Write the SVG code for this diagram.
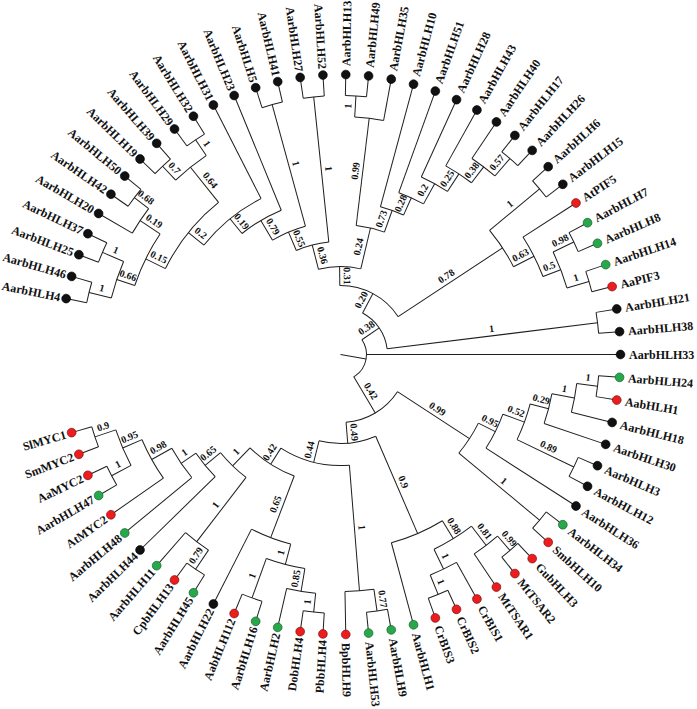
<svg xmlns="http://www.w3.org/2000/svg" width="697" height="709" viewBox="0 0 697 709">
<style>
.c{fill:none;stroke:#1e1e1e;stroke-width:1}
.k{fill:#111;stroke:#000;stroke-width:0.6}
.r{fill:#ee1c1c;stroke:#6a0d0d;stroke-width:0.6}
.g{fill:#27a84a;stroke:#145a26;stroke-width:0.6}
.lf{font-family:"Liberation Serif","Times New Roman",serif;font-weight:bold;font-size:12px;fill:#111}
.fl{text-anchor:end}
.bs{font-family:"Liberation Serif","Times New Roman",serif;font-weight:bold;font-size:10px;fill:#111;text-anchor:middle}
</style>
<rect width="697" height="709" fill="#fff"/>
<g transform="translate(340.5 354.5)">
<g id="connectors" class="c">
<path d="M0 0H26" transform="rotate(10)"/>
<circle r="26" stroke-dasharray="42.52 3000" transform="rotate(-34.49)"/>
<circle r="47" stroke-dasharray="45.07 3000" transform="rotate(-61.96)"/>
<circle r="69" stroke-dasharray="68.92 3000" transform="rotate(-90.575)"/>
<circle r="88" stroke-dasharray="42.71 3000" transform="rotate(-104.48)"/>
<circle r="130" stroke-dasharray="29.04 3000" transform="rotate(-83.07)"/>
<circle r="238" stroke-dasharray="29.16 3000" transform="rotate(-86.58)"/>
<circle r="259" stroke-dasharray="21.16 3000" transform="rotate(-88.92)"/>
<circle r="153" stroke-dasharray="24.59 3000" transform="rotate(-74.88)"/>
<circle r="172" stroke-dasharray="27.23 3000" transform="rotate(-70.2)"/>
<circle r="195" stroke-dasharray="29.86 3000" transform="rotate(-65.52)"/>
<circle r="216" stroke-dasharray="30.88 3000" transform="rotate(-60.84)"/>
<circle r="236" stroke-dasharray="28.92 3000" transform="rotate(-56.16)"/>
<circle r="259" stroke-dasharray="21.16 3000" transform="rotate(-51.48)"/>
<circle r="113" stroke-dasharray="33.67 3000" transform="rotate(-113.01)"/>
<circle r="259" stroke-dasharray="21.16 3000" transform="rotate(-98.28)"/>
<circle r="133" stroke-dasharray="35.82 3000" transform="rotate(-120.73)"/>
<circle r="259" stroke-dasharray="21.16 3000" transform="rotate(-107.64)"/>
<circle r="156" stroke-dasharray="45.8 3000" transform="rotate(-129.14)"/>
<circle r="175" stroke-dasharray="74.16 3000" transform="rotate(-141.28)"/>
<circle r="195" stroke-dasharray="85.61 3000" transform="rotate(-153.855)"/>
<circle r="240" stroke-dasharray="39.21 3000" transform="rotate(-133.38)"/>
<circle r="259" stroke-dasharray="21.16 3000" transform="rotate(-126.36)"/>
<circle r="259" stroke-dasharray="21.16 3000" transform="rotate(-135.72)"/>
<circle r="217" stroke-dasharray="57.61 3000" transform="rotate(-161.46)"/>
<circle r="241" stroke-dasharray="29.53 3000" transform="rotate(-149.76)"/>
<circle r="259" stroke-dasharray="21.16 3000" transform="rotate(-145.08)"/>
<circle r="236" stroke-dasharray="38.55 3000" transform="rotate(-166.14)"/>
<circle r="259" stroke-dasharray="21.16 3000" transform="rotate(-159.12)"/>
<circle r="259" stroke-dasharray="21.16 3000" transform="rotate(-168.48)"/>
<circle r="194" stroke-dasharray="43.58 3000" transform="rotate(-39.78)"/>
<circle r="259" stroke-dasharray="21.16 3000" transform="rotate(-42.12)"/>
<circle r="217" stroke-dasharray="44.31 3000" transform="rotate(-32.76)"/>
<circle r="236" stroke-dasharray="38.55 3000" transform="rotate(-25.74)"/>
<circle r="259" stroke-dasharray="21.16 3000" transform="rotate(-28.08)"/>
<circle r="259" stroke-dasharray="21.16 3000" transform="rotate(-18.72)"/>
<circle r="259" stroke-dasharray="21.16 3000" transform="rotate(-9.36)"/>
<circle r="68" stroke-dasharray="61.95 3000" transform="rotate(33.125)"/>
<circle r="154" stroke-dasharray="35.77 3000" transform="rotate(26.47)"/>
<circle r="173" stroke-dasharray="37.98 3000" transform="rotate(20.18)"/>
<circle r="196" stroke-dasharray="38.02 3000" transform="rotate(14.625)"/>
<circle r="215" stroke-dasharray="30.73 3000" transform="rotate(10.53)"/>
<circle r="238" stroke-dasharray="29.16 3000" transform="rotate(7.02)"/>
<circle r="259" stroke-dasharray="21.16 3000" transform="rotate(4.68)"/>
<circle r="259" stroke-dasharray="21.16 3000" transform="rotate(23.4)"/>
<circle r="259" stroke-dasharray="21.16 3000" transform="rotate(37.44)"/>
<circle r="89" stroke-dasharray="57.88 3000" transform="rotate(66.69)"/>
<circle r="195" stroke-dasharray="55.75 3000" transform="rotate(58.5)"/>
<circle r="216" stroke-dasharray="44.11 3000" transform="rotate(52.65)"/>
<circle r="240" stroke-dasharray="29.41 3000" transform="rotate(49.14)"/>
<circle r="259" stroke-dasharray="21.16 3000" transform="rotate(46.8)"/>
<circle r="238" stroke-dasharray="29.16 3000" transform="rotate(60.84)"/>
<circle r="259" stroke-dasharray="21.16 3000" transform="rotate(65.52)"/>
<circle r="111" stroke-dasharray="71.83 3000" transform="rotate(85.41)"/>
<circle r="237" stroke-dasharray="29.04 3000" transform="rotate(81.9)"/>
<circle r="259" stroke-dasharray="21.16 3000" transform="rotate(79.56)"/>
<circle r="130" stroke-dasharray="52.75 3000" transform="rotate(110.86)"/>
<circle r="196" stroke-dasharray="42.02 3000" transform="rotate(104.715)"/>
<circle r="217" stroke-dasharray="39.88 3000" transform="rotate(99.45)"/>
<circle r="240" stroke-dasharray="29.41 3000" transform="rotate(95.94)"/>
<circle r="259" stroke-dasharray="21.16 3000" transform="rotate(93.6)"/>
<circle r="259" stroke-dasharray="21.16 3000" transform="rotate(107.64)"/>
<circle r="155" stroke-dasharray="35.6 3000" transform="rotate(127.53)"/>
<circle r="236" stroke-dasharray="28.92 3000" transform="rotate(124.02)"/>
<circle r="259" stroke-dasharray="21.16 3000" transform="rotate(121.68)"/>
<circle r="175" stroke-dasharray="30.37 3000" transform="rotate(135.72)"/>
<circle r="193" stroke-dasharray="35.47 3000" transform="rotate(140.4)"/>
<circle r="216" stroke-dasharray="44.11 3000" transform="rotate(145.08)"/>
<circle r="237" stroke-dasharray="38.72 3000" transform="rotate(152.1)"/>
<circle r="259" stroke-dasharray="21.16 3000" transform="rotate(149.76)"/>
<circle r="259" stroke-dasharray="21.16 3000" transform="rotate(159.12)"/>
<path d="M26 0H47" transform="rotate(-34.49)"/>
<path d="M47 0H69" transform="rotate(-61.96)"/>
<path d="M69 0H88" transform="rotate(-90.575)"/>
<path d="M88 0H130" transform="rotate(-76.67)"/>
<path d="M130 0H238" transform="rotate(-83.07)"/>
<path d="M238 0H259" transform="rotate(-86.58)"/>
<path d="M130 0H153" transform="rotate(-70.27)"/>
<path d="M153 0H172" transform="rotate(-65.67)"/>
<path d="M172 0H195" transform="rotate(-61.13)"/>
<path d="M195 0H216" transform="rotate(-56.745)"/>
<path d="M216 0H236" transform="rotate(-52.65)"/>
<path d="M236 0H259" transform="rotate(-49.14)"/>
<path d="M88 0H113" transform="rotate(-104.48)"/>
<path d="M113 0H259" transform="rotate(-95.94)"/>
<path d="M113 0H133" transform="rotate(-113.01)"/>
<path d="M133 0H259" transform="rotate(-105.3)"/>
<path d="M133 0H156" transform="rotate(-120.73)"/>
<path d="M156 0H175" transform="rotate(-129.14)"/>
<path d="M175 0H195" transform="rotate(-141.28)"/>
<path d="M195 0H240" transform="rotate(-128.7)"/>
<path d="M240 0H259" transform="rotate(-124.02)"/>
<path d="M240 0H259" transform="rotate(-133.38)"/>
<path d="M195 0H217" transform="rotate(-153.855)"/>
<path d="M217 0H241" transform="rotate(-146.25)"/>
<path d="M241 0H259" transform="rotate(-142.74)"/>
<path d="M217 0H236" transform="rotate(-161.46)"/>
<path d="M236 0H259" transform="rotate(-156.78)"/>
<path d="M236 0H259" transform="rotate(-166.14)"/>
<path d="M69 0H194" transform="rotate(-33.345)"/>
<path d="M194 0H259" transform="rotate(-39.78)"/>
<path d="M194 0H217" transform="rotate(-26.91)"/>
<path d="M217 0H236" transform="rotate(-21.06)"/>
<path d="M236 0H259" transform="rotate(-25.74)"/>
<path d="M236 0H259" transform="rotate(-16.38)"/>
<path d="M47 0H259" transform="rotate(-7.02)"/>
<path d="M26 0H68" transform="rotate(59.22)"/>
<path d="M68 0H154" transform="rotate(33.125)"/>
<path d="M154 0H173" transform="rotate(26.47)"/>
<path d="M173 0H196" transform="rotate(20.18)"/>
<path d="M196 0H215" transform="rotate(14.625)"/>
<path d="M215 0H238" transform="rotate(10.53)"/>
<path d="M238 0H259" transform="rotate(7.02)"/>
<path d="M196 0H259" transform="rotate(25.74)"/>
<path d="M154 0H259" transform="rotate(39.78)"/>
<path d="M68 0H89" transform="rotate(85.32)"/>
<path d="M89 0H195" transform="rotate(66.69)"/>
<path d="M195 0H216" transform="rotate(58.5)"/>
<path d="M216 0H240" transform="rotate(52.65)"/>
<path d="M240 0H259" transform="rotate(49.14)"/>
<path d="M216 0H238" transform="rotate(64.35)"/>
<path d="M238 0H259" transform="rotate(67.86)"/>
<path d="M89 0H111" transform="rotate(103.95)"/>
<path d="M111 0H237" transform="rotate(85.41)"/>
<path d="M237 0H259" transform="rotate(81.9)"/>
<path d="M111 0H130" transform="rotate(122.485)"/>
<path d="M130 0H196" transform="rotate(110.86)"/>
<path d="M196 0H217" transform="rotate(104.715)"/>
<path d="M217 0H240" transform="rotate(99.45)"/>
<path d="M240 0H259" transform="rotate(95.94)"/>
<path d="M217 0H259" transform="rotate(109.98)"/>
<path d="M130 0H155" transform="rotate(134.11)"/>
<path d="M155 0H236" transform="rotate(127.53)"/>
<path d="M236 0H259" transform="rotate(124.02)"/>
<path d="M155 0H175" transform="rotate(140.69)"/>
<path d="M175 0H193" transform="rotate(145.665)"/>
<path d="M193 0H216" transform="rotate(150.93)"/>
<path d="M216 0H237" transform="rotate(156.78)"/>
<path d="M237 0H259" transform="rotate(152.1)"/>
<path d="M237 0H259" transform="rotate(161.46)"/>
<path d="M259 0H280" transform="rotate(-168.48)"/>
<path d="M259 0H280" transform="rotate(-163.8)"/>
<path d="M259 0H280" transform="rotate(-159.12)"/>
<path d="M259 0H280" transform="rotate(-154.44)"/>
<path d="M241 0H280" transform="rotate(-149.76)"/>
<path d="M259 0H280" transform="rotate(-145.08)"/>
<path d="M259 0H280" transform="rotate(-140.4)"/>
<path d="M259 0H280" transform="rotate(-135.72)"/>
<path d="M259 0H280" transform="rotate(-131.04)"/>
<path d="M259 0H280" transform="rotate(-126.36)"/>
<path d="M259 0H280" transform="rotate(-121.68)"/>
<path d="M175 0H280" transform="rotate(-117)"/>
<path d="M156 0H280" transform="rotate(-112.32)"/>
<path d="M259 0H280" transform="rotate(-107.64)"/>
<path d="M259 0H280" transform="rotate(-102.96)"/>
<path d="M259 0H280" transform="rotate(-98.28)"/>
<path d="M259 0H280" transform="rotate(-93.6)"/>
<path d="M259 0H280" transform="rotate(-88.92)"/>
<path d="M259 0H280" transform="rotate(-84.24)"/>
<path d="M238 0H280" transform="rotate(-79.56)"/>
<path d="M153 0H280" transform="rotate(-74.88)"/>
<path d="M172 0H280" transform="rotate(-70.2)"/>
<path d="M195 0H280" transform="rotate(-65.52)"/>
<path d="M216 0H280" transform="rotate(-60.84)"/>
<path d="M236 0H280" transform="rotate(-56.16)"/>
<path d="M259 0H280" transform="rotate(-51.48)"/>
<path d="M259 0H280" transform="rotate(-46.8)"/>
<path d="M259 0H280" transform="rotate(-42.12)"/>
<path d="M259 0H280" transform="rotate(-37.44)"/>
<path d="M217 0H280" transform="rotate(-32.76)"/>
<path d="M259 0H280" transform="rotate(-28.08)"/>
<path d="M259 0H280" transform="rotate(-23.4)"/>
<path d="M259 0H280" transform="rotate(-18.72)"/>
<path d="M259 0H280" transform="rotate(-14.04)"/>
<path d="M259 0H280" transform="rotate(-9.36)"/>
<path d="M259 0H280" transform="rotate(-4.68)"/>
<path d="M26 0H280"/>
<path d="M259 0H280" transform="rotate(4.68)"/>
<path d="M259 0H280" transform="rotate(9.36)"/>
<path d="M238 0H280" transform="rotate(14.04)"/>
<path d="M215 0H280" transform="rotate(18.72)"/>
<path d="M259 0H280" transform="rotate(23.4)"/>
<path d="M259 0H280" transform="rotate(28.08)"/>
<path d="M173 0H280" transform="rotate(32.76)"/>
<path d="M259 0H280" transform="rotate(37.44)"/>
<path d="M259 0H280" transform="rotate(42.12)"/>
<path d="M259 0H280" transform="rotate(46.8)"/>
<path d="M259 0H280" transform="rotate(51.48)"/>
<path d="M240 0H280" transform="rotate(56.16)"/>
<path d="M238 0H280" transform="rotate(60.84)"/>
<path d="M259 0H280" transform="rotate(65.52)"/>
<path d="M259 0H280" transform="rotate(70.2)"/>
<path d="M195 0H280" transform="rotate(74.88)"/>
<path d="M259 0H280" transform="rotate(79.56)"/>
<path d="M259 0H280" transform="rotate(84.24)"/>
<path d="M237 0H280" transform="rotate(88.92)"/>
<path d="M259 0H280" transform="rotate(93.6)"/>
<path d="M259 0H280" transform="rotate(98.28)"/>
<path d="M240 0H280" transform="rotate(102.96)"/>
<path d="M259 0H280" transform="rotate(107.64)"/>
<path d="M259 0H280" transform="rotate(112.32)"/>
<path d="M196 0H280" transform="rotate(117)"/>
<path d="M259 0H280" transform="rotate(121.68)"/>
<path d="M259 0H280" transform="rotate(126.36)"/>
<path d="M236 0H280" transform="rotate(131.04)"/>
<path d="M175 0H280" transform="rotate(135.72)"/>
<path d="M193 0H280" transform="rotate(140.4)"/>
<path d="M216 0H280" transform="rotate(145.08)"/>
<path d="M259 0H280" transform="rotate(149.76)"/>
<path d="M259 0H280" transform="rotate(154.44)"/>
<path d="M259 0H280" transform="rotate(159.12)"/>
<path d="M259 0H280" transform="rotate(163.8)"/>
</g>
<g id="support">
<text class="bs" x="36.5" y="-4" transform="rotate(-34.49)">0.38</text>
<text class="bs" x="58" y="-4" transform="rotate(-61.96)">0.20</text>
<text class="bs" x="78.5" y="-4" transform="rotate(-90.575) rotate(180 78.5 0)">0.31</text>
<text class="bs" x="109" y="-4" transform="rotate(-76.67)">0.24</text>
<text class="bs" x="184" y="-4" transform="rotate(-83.07)">0.99</text>
<text class="bs" x="248.5" y="-4" transform="rotate(-86.58)">1</text>
<text class="bs" x="141.5" y="-4" transform="rotate(-70.27)">0.73</text>
<text class="bs" x="162.5" y="-4" transform="rotate(-65.67)">0.28</text>
<text class="bs" x="183.5" y="-4" transform="rotate(-61.13)">0.2</text>
<text class="bs" x="205.5" y="-4" transform="rotate(-56.745)">0.25</text>
<text class="bs" x="226" y="-4" transform="rotate(-52.65)">0.38</text>
<text class="bs" x="247.5" y="-4" transform="rotate(-49.14)">0.57</text>
<text class="bs" x="100.5" y="-4" transform="rotate(-104.48) rotate(180 100.5 0)">0.36</text>
<text class="bs" x="186" y="-4" transform="rotate(-95.94) rotate(180 186 0)">1</text>
<text class="bs" x="123" y="-4" transform="rotate(-113.01) rotate(180 123 0)">0.55</text>
<text class="bs" x="196" y="-4" transform="rotate(-105.3) rotate(180 196 0)">1</text>
<text class="bs" x="144.5" y="-4" transform="rotate(-120.73) rotate(180 144.5 0)">0.79</text>
<text class="bs" x="165.5" y="-4" transform="rotate(-129.14) rotate(180 165.5 0)">0.19</text>
<text class="bs" x="185" y="-4" transform="rotate(-141.28) rotate(180 185 0)">0.2</text>
<text class="bs" x="217.5" y="-4" transform="rotate(-128.7) rotate(180 217.5 0)">0.64</text>
<text class="bs" x="249.5" y="-4" transform="rotate(-124.02) rotate(180 249.5 0)">1</text>
<text class="bs" x="249.5" y="-4" transform="rotate(-133.38) rotate(180 249.5 0)">0.7</text>
<text class="bs" x="206" y="-4" transform="rotate(-153.855) rotate(180 206 0)">0.15</text>
<text class="bs" x="229" y="-4" transform="rotate(-146.25) rotate(180 229 0)">0.19</text>
<text class="bs" x="250" y="-4" transform="rotate(-142.74) rotate(180 250 0)">0.68</text>
<text class="bs" x="226.5" y="-4" transform="rotate(-161.46) rotate(180 226.5 0)">0.66</text>
<text class="bs" x="247.5" y="-4" transform="rotate(-156.78) rotate(180 247.5 0)">1</text>
<text class="bs" x="247.5" y="-4" transform="rotate(-166.14) rotate(180 247.5 0)">1</text>
<text class="bs" x="131.5" y="-4" transform="rotate(-33.345)">0.78</text>
<text class="bs" x="226.5" y="-4" transform="rotate(-39.78)">1</text>
<text class="bs" x="205.5" y="-4" transform="rotate(-26.91)">0.63</text>
<text class="bs" x="226.5" y="-4" transform="rotate(-21.06)">0.5</text>
<text class="bs" x="247.5" y="-4" transform="rotate(-25.74)">0.98</text>
<text class="bs" x="247.5" y="-4" transform="rotate(-16.38)">1</text>
<text class="bs" x="153" y="-4" transform="rotate(-7.02)">1</text>
<text class="bs" x="47" y="-4" transform="rotate(59.22)">0.42</text>
<text class="bs" x="111" y="-4" transform="rotate(33.125)">0.99</text>
<text class="bs" x="163.5" y="-4" transform="rotate(26.47)">0.95</text>
<text class="bs" x="184.5" y="-4" transform="rotate(20.18)">0.52</text>
<text class="bs" x="205.5" y="-4" transform="rotate(14.625)">0.29</text>
<text class="bs" x="226.5" y="-4" transform="rotate(10.53)">1</text>
<text class="bs" x="248.5" y="-4" transform="rotate(7.02)">1</text>
<text class="bs" x="227.5" y="-4" transform="rotate(25.74)">0.89</text>
<text class="bs" x="206.5" y="-4" transform="rotate(39.78)">1</text>
<text class="bs" x="78.5" y="-4" transform="rotate(85.32)">0.49</text>
<text class="bs" x="142" y="-4" transform="rotate(66.69)">0.9</text>
<text class="bs" x="205.5" y="-4" transform="rotate(58.5)">0.88</text>
<text class="bs" x="228" y="-4" transform="rotate(52.65)">0.81</text>
<text class="bs" x="249.5" y="-4" transform="rotate(49.14)">0.99</text>
<text class="bs" x="227" y="-4" transform="rotate(64.35)">1</text>
<text class="bs" x="248.5" y="-4" transform="rotate(67.86)">1</text>
<text class="bs" x="100" y="-4" transform="rotate(103.95) rotate(180 100 0)">0.44</text>
<text class="bs" x="174" y="-4" transform="rotate(85.41)">1</text>
<text class="bs" x="248" y="-4" transform="rotate(81.9)">0.77</text>
<text class="bs" x="120.5" y="-4" transform="rotate(122.485) rotate(180 120.5 0)">0.42</text>
<text class="bs" x="163" y="-4" transform="rotate(110.86) rotate(180 163 0)">0.65</text>
<text class="bs" x="206.5" y="-4" transform="rotate(104.715) rotate(180 206.5 0)">1</text>
<text class="bs" x="228.5" y="-4" transform="rotate(99.45) rotate(180 228.5 0)">0.85</text>
<text class="bs" x="249.5" y="-4" transform="rotate(95.94) rotate(180 249.5 0)">1</text>
<text class="bs" x="238" y="-4" transform="rotate(109.98) rotate(180 238 0)">1</text>
<text class="bs" x="142.5" y="-4" transform="rotate(134.11) rotate(180 142.5 0)">1</text>
<text class="bs" x="195.5" y="-4" transform="rotate(127.53) rotate(180 195.5 0)">1</text>
<text class="bs" x="247.5" y="-4" transform="rotate(124.02) rotate(180 247.5 0)">0.79</text>
<text class="bs" x="165" y="-4" transform="rotate(140.69) rotate(180 165 0)">0.65</text>
<text class="bs" x="184" y="-4" transform="rotate(145.665) rotate(180 184 0)">1</text>
<text class="bs" x="204.5" y="-4" transform="rotate(150.93) rotate(180 204.5 0)">0.98</text>
<text class="bs" x="226.5" y="-4" transform="rotate(156.78) rotate(180 226.5 0)">0.95</text>
<text class="bs" x="248" y="-4" transform="rotate(152.1) rotate(180 248 0)">1</text>
<text class="bs" x="248" y="-4" transform="rotate(161.46) rotate(180 248 0)">0.9</text>
</g>
<g id="leaves">
<g id="leaf-AarbHLH4" transform="rotate(-168.48)"><circle cx="280" r="4.4" class="k"/><text class="lf fl" dy="4.2" transform="translate(286 0) rotate(180)">AarbHLH4</text></g>
<g id="leaf-AarbHLH46" transform="rotate(-163.8)"><circle cx="280" r="4.4" class="k"/><text class="lf fl" dy="4.2" transform="translate(286 0) rotate(180)">AarbHLH46</text></g>
<g id="leaf-AarbHLH25" transform="rotate(-159.12)"><circle cx="280" r="4.4" class="k"/><text class="lf fl" dy="4.2" transform="translate(286 0) rotate(180)">AarbHLH25</text></g>
<g id="leaf-AarbHLH37" transform="rotate(-154.44)"><circle cx="280" r="4.4" class="k"/><text class="lf fl" dy="4.2" transform="translate(286 0) rotate(180)">AarbHLH37</text></g>
<g id="leaf-AarbHLH20" transform="rotate(-149.76)"><circle cx="280" r="4.4" class="k"/><text class="lf fl" dy="4.2" transform="translate(286 0) rotate(180)">AarbHLH20</text></g>
<g id="leaf-AarbHLH42" transform="rotate(-145.08)"><circle cx="280" r="4.4" class="k"/><text class="lf fl" dy="4.2" transform="translate(286 0) rotate(180)">AarbHLH42</text></g>
<g id="leaf-AarbHLH50" transform="rotate(-140.4)"><circle cx="280" r="4.4" class="k"/><text class="lf fl" dy="4.2" transform="translate(286 0) rotate(180)">AarbHLH50</text></g>
<g id="leaf-AarbHLH19" transform="rotate(-135.72)"><circle cx="280" r="4.4" class="k"/><text class="lf fl" dy="4.2" transform="translate(286 0) rotate(180)">AarbHLH19</text></g>
<g id="leaf-AarbHLH39" transform="rotate(-131.04)"><circle cx="280" r="4.4" class="k"/><text class="lf fl" dy="4.2" transform="translate(286 0) rotate(180)">AarbHLH39</text></g>
<g id="leaf-AarbHLH29" transform="rotate(-126.36)"><circle cx="280" r="4.4" class="k"/><text class="lf fl" dy="4.2" transform="translate(286 0) rotate(180)">AarbHLH29</text></g>
<g id="leaf-AarbHLH32" transform="rotate(-121.68)"><circle cx="280" r="4.4" class="k"/><text class="lf fl" dy="4.2" transform="translate(286 0) rotate(180)">AarbHLH32</text></g>
<g id="leaf-AarbHLH31" transform="rotate(-117)"><circle cx="280" r="4.4" class="k"/><text class="lf fl" dy="4.2" transform="translate(286 0) rotate(180)">AarbHLH31</text></g>
<g id="leaf-AarbHLH23" transform="rotate(-112.32)"><circle cx="280" r="4.4" class="k"/><text class="lf fl" dy="4.2" transform="translate(286 0) rotate(180)">AarbHLH23</text></g>
<g id="leaf-AarbHLH5" transform="rotate(-107.64)"><circle cx="280" r="4.4" class="k"/><text class="lf fl" dy="4.2" transform="translate(286 0) rotate(180)">AarbHLH5</text></g>
<g id="leaf-AarbHLH41" transform="rotate(-102.96)"><circle cx="280" r="4.4" class="k"/><text class="lf fl" dy="4.2" transform="translate(286 0) rotate(180)">AarbHLH41</text></g>
<g id="leaf-AarbHLH27" transform="rotate(-98.28)"><circle cx="280" r="4.4" class="k"/><text class="lf fl" dy="4.2" transform="translate(286 0) rotate(180)">AarbHLH27</text></g>
<g id="leaf-AarbHLH52" transform="rotate(-93.6)"><circle cx="280" r="4.4" class="k"/><text class="lf fl" dy="4.2" transform="translate(286 0) rotate(180)">AarbHLH52</text></g>
<g id="leaf-AarbHLH13" transform="rotate(-88.92)"><circle cx="280" r="4.4" class="k"/><text class="lf" x="288.5" dy="4.2">AarbHLH13</text></g>
<g id="leaf-AarbHLH49" transform="rotate(-84.24)"><circle cx="280" r="4.4" class="k"/><text class="lf" x="288.5" dy="4.2">AarbHLH49</text></g>
<g id="leaf-AarbHLH35" transform="rotate(-79.56)"><circle cx="280" r="4.4" class="k"/><text class="lf" x="288.5" dy="4.2">AarbHLH35</text></g>
<g id="leaf-AarbHLH10" transform="rotate(-74.88)"><circle cx="280" r="4.4" class="k"/><text class="lf" x="288.5" dy="4.2">AarbHLH10</text></g>
<g id="leaf-AarbHLH51" transform="rotate(-70.2)"><circle cx="280" r="4.4" class="k"/><text class="lf" x="288.5" dy="4.2">AarbHLH51</text></g>
<g id="leaf-AarbHLH28" transform="rotate(-65.52)"><circle cx="280" r="4.4" class="k"/><text class="lf" x="288.5" dy="4.2">AarbHLH28</text></g>
<g id="leaf-AarbHLH43" transform="rotate(-60.84)"><circle cx="280" r="4.4" class="k"/><text class="lf" x="288.5" dy="4.2">AarbHLH43</text></g>
<g id="leaf-AarbHLH40" transform="rotate(-56.16)"><circle cx="280" r="4.4" class="k"/><text class="lf" x="288.5" dy="4.2">AarbHLH40</text></g>
<g id="leaf-AarbHLH17" transform="rotate(-51.48)"><circle cx="280" r="4.4" class="k"/><text class="lf" x="288.5" dy="4.2">AarbHLH17</text></g>
<g id="leaf-AarbHLH26" transform="rotate(-46.8)"><circle cx="280" r="4.4" class="k"/><text class="lf" x="288.5" dy="4.2">AarbHLH26</text></g>
<g id="leaf-AarbHLH6" transform="rotate(-42.12)"><circle cx="280" r="4.4" class="k"/><text class="lf" x="288.5" dy="4.2">AarbHLH6</text></g>
<g id="leaf-AarbHLH15" transform="rotate(-37.44)"><circle cx="280" r="4.4" class="k"/><text class="lf" x="288.5" dy="4.2">AarbHLH15</text></g>
<g id="leaf-AtPIF5" transform="rotate(-32.76)"><circle cx="280" r="4.4" class="r"/><text class="lf" x="288.5" dy="4.2">AtPIF5</text></g>
<g id="leaf-AarbHLH7" transform="rotate(-28.08)"><circle cx="280" r="4.4" class="g"/><text class="lf" x="288.5" dy="4.2">AarbHLH7</text></g>
<g id="leaf-AarbHLH8" transform="rotate(-23.4)"><circle cx="280" r="4.4" class="g"/><text class="lf" x="288.5" dy="4.2">AarbHLH8</text></g>
<g id="leaf-AarbHLH14" transform="rotate(-18.72)"><circle cx="280" r="4.4" class="g"/><text class="lf" x="288.5" dy="4.2">AarbHLH14</text></g>
<g id="leaf-AaPIF3" transform="rotate(-14.04)"><circle cx="280" r="4.4" class="r"/><text class="lf" x="288.5" dy="4.2">AaPIF3</text></g>
<g id="leaf-AarbHLH21" transform="rotate(-9.36)"><circle cx="280" r="4.4" class="k"/><text class="lf" x="288.5" dy="4.2">AarbHLH21</text></g>
<g id="leaf-AarbHLH38" transform="rotate(-4.68)"><circle cx="280" r="4.4" class="k"/><text class="lf" x="288.5" dy="4.2">AarbHLH38</text></g>
<g id="leaf-AarbHLH33"><circle cx="280" r="4.4" class="k"/><text class="lf" x="288.5" dy="4.2">AarbHLH33</text></g>
<g id="leaf-AarbHLH24" transform="rotate(4.68)"><circle cx="280" r="4.4" class="g"/><text class="lf" x="288.5" dy="4.2">AarbHLH24</text></g>
<g id="leaf-AabHLH1" transform="rotate(9.36)"><circle cx="280" r="4.4" class="r"/><text class="lf" x="288.5" dy="4.2">AabHLH1</text></g>
<g id="leaf-AarbHLH18" transform="rotate(14.04)"><circle cx="280" r="4.4" class="k"/><text class="lf" x="288.5" dy="4.2">AarbHLH18</text></g>
<g id="leaf-AarbHLH30" transform="rotate(18.72)"><circle cx="280" r="4.4" class="k"/><text class="lf" x="288.5" dy="4.2">AarbHLH30</text></g>
<g id="leaf-AarbHLH3" transform="rotate(23.4)"><circle cx="280" r="4.4" class="k"/><text class="lf" x="288.5" dy="4.2">AarbHLH3</text></g>
<g id="leaf-AarbHLH12" transform="rotate(28.08)"><circle cx="280" r="4.4" class="k"/><text class="lf" x="288.5" dy="4.2">AarbHLH12</text></g>
<g id="leaf-AarbHLH36" transform="rotate(32.76)"><circle cx="280" r="4.4" class="k"/><text class="lf" x="288.5" dy="4.2">AarbHLH36</text></g>
<g id="leaf-AarbHLH34" transform="rotate(37.44)"><circle cx="280" r="4.4" class="g"/><text class="lf" x="288.5" dy="4.2">AarbHLH34</text></g>
<g id="leaf-SmbHLH10" transform="rotate(42.12)"><circle cx="280" r="4.4" class="r"/><text class="lf" x="288.5" dy="4.2">SmbHLH10</text></g>
<g id="leaf-GubHLH3" transform="rotate(46.8)"><circle cx="280" r="4.4" class="r"/><text class="lf" x="288.5" dy="4.2">GubHLH3</text></g>
<g id="leaf-MtTSAR2" transform="rotate(51.48)"><circle cx="280" r="4.4" class="r"/><text class="lf" x="288.5" dy="4.2">MtTSAR2</text></g>
<g id="leaf-MtTSAR1" transform="rotate(56.16)"><circle cx="280" r="4.4" class="r"/><text class="lf" x="288.5" dy="4.2">MtTSAR1</text></g>
<g id="leaf-CrBIS1" transform="rotate(60.84)"><circle cx="280" r="4.4" class="r"/><text class="lf" x="288.5" dy="4.2">CrBIS1</text></g>
<g id="leaf-CrBIS2" transform="rotate(65.52)"><circle cx="280" r="4.4" class="r"/><text class="lf" x="288.5" dy="4.2">CrBIS2</text></g>
<g id="leaf-CrBIS3" transform="rotate(70.2)"><circle cx="280" r="4.4" class="r"/><text class="lf" x="288.5" dy="4.2">CrBIS3</text></g>
<g id="leaf-AarbHLH1" transform="rotate(74.88)"><circle cx="280" r="4.4" class="g"/><text class="lf" x="288.5" dy="4.2">AarbHLH1</text></g>
<g id="leaf-AarbHLH9" transform="rotate(79.56)"><circle cx="280" r="4.4" class="g"/><text class="lf" x="288.5" dy="4.2">AarbHLH9</text></g>
<g id="leaf-AarbHLH53" transform="rotate(84.24)"><circle cx="280" r="4.4" class="g"/><text class="lf" x="288.5" dy="4.2">AarbHLH53</text></g>
<g id="leaf-BpbHLH9" transform="rotate(88.92)"><circle cx="280" r="4.4" class="r"/><text class="lf" x="288.5" dy="4.2">BpbHLH9</text></g>
<g id="leaf-PbbHLH4" transform="rotate(93.6)"><circle cx="280" r="4.4" class="r"/><text class="lf fl" dy="4.2" transform="translate(286 0) rotate(180)">PbbHLH4</text></g>
<g id="leaf-DobHLH4" transform="rotate(98.28)"><circle cx="280" r="4.4" class="r"/><text class="lf fl" dy="4.2" transform="translate(286 0) rotate(180)">DobHLH4</text></g>
<g id="leaf-AarbHLH2" transform="rotate(102.96)"><circle cx="280" r="4.4" class="g"/><text class="lf fl" dy="4.2" transform="translate(286 0) rotate(180)">AarbHLH2</text></g>
<g id="leaf-AarbHLH16" transform="rotate(107.64)"><circle cx="280" r="4.4" class="g"/><text class="lf fl" dy="4.2" transform="translate(286 0) rotate(180)">AarbHLH16</text></g>
<g id="leaf-AabHLH112" transform="rotate(112.32)"><circle cx="280" r="4.4" class="r"/><text class="lf fl" dy="4.2" transform="translate(286 0) rotate(180)">AabHLH112</text></g>
<g id="leaf-AarbHLH22" transform="rotate(117)"><circle cx="280" r="4.4" class="k"/><text class="lf fl" dy="4.2" transform="translate(286 0) rotate(180)">AarbHLH22</text></g>
<g id="leaf-AarbHLH45" transform="rotate(121.68)"><circle cx="280" r="4.4" class="g"/><text class="lf fl" dy="4.2" transform="translate(286 0) rotate(180)">AarbHLH45</text></g>
<g id="leaf-CpbHLH13" transform="rotate(126.36)"><circle cx="280" r="4.4" class="r"/><text class="lf fl" dy="4.2" transform="translate(286 0) rotate(180)">CpbHLH13</text></g>
<g id="leaf-AarbHLH11" transform="rotate(131.04)"><circle cx="280" r="4.4" class="g"/><text class="lf fl" dy="4.2" transform="translate(286 0) rotate(180)">AarbHLH11</text></g>
<g id="leaf-AarbHLH44" transform="rotate(135.72)"><circle cx="280" r="4.4" class="k"/><text class="lf fl" dy="4.2" transform="translate(286 0) rotate(180)">AarbHLH44</text></g>
<g id="leaf-AarbHLH48" transform="rotate(140.4)"><circle cx="280" r="4.4" class="g"/><text class="lf fl" dy="4.2" transform="translate(286 0) rotate(180)">AarbHLH48</text></g>
<g id="leaf-AtMYC2" transform="rotate(145.08)"><circle cx="280" r="4.4" class="r"/><text class="lf fl" dy="4.2" transform="translate(286 0) rotate(180)">AtMYC2</text></g>
<g id="leaf-AarbHLH47" transform="rotate(149.76)"><circle cx="280" r="4.4" class="g"/><text class="lf fl" dy="4.2" transform="translate(286 0) rotate(180)">AarbHLH47</text></g>
<g id="leaf-AaMYC2" transform="rotate(154.44)"><circle cx="280" r="4.4" class="r"/><text class="lf fl" dy="4.2" transform="translate(286 0) rotate(180)">AaMYC2</text></g>
<g id="leaf-SmMYC2" transform="rotate(159.12)"><circle cx="280" r="4.4" class="r"/><text class="lf fl" dy="4.2" transform="translate(286 0) rotate(180)">SmMYC2</text></g>
<g id="leaf-SlMYC1" transform="rotate(163.8)"><circle cx="280" r="4.4" class="r"/><text class="lf fl" dy="4.2" transform="translate(286 0) rotate(180)">SlMYC1</text></g>
</g>
</g>
</svg>
